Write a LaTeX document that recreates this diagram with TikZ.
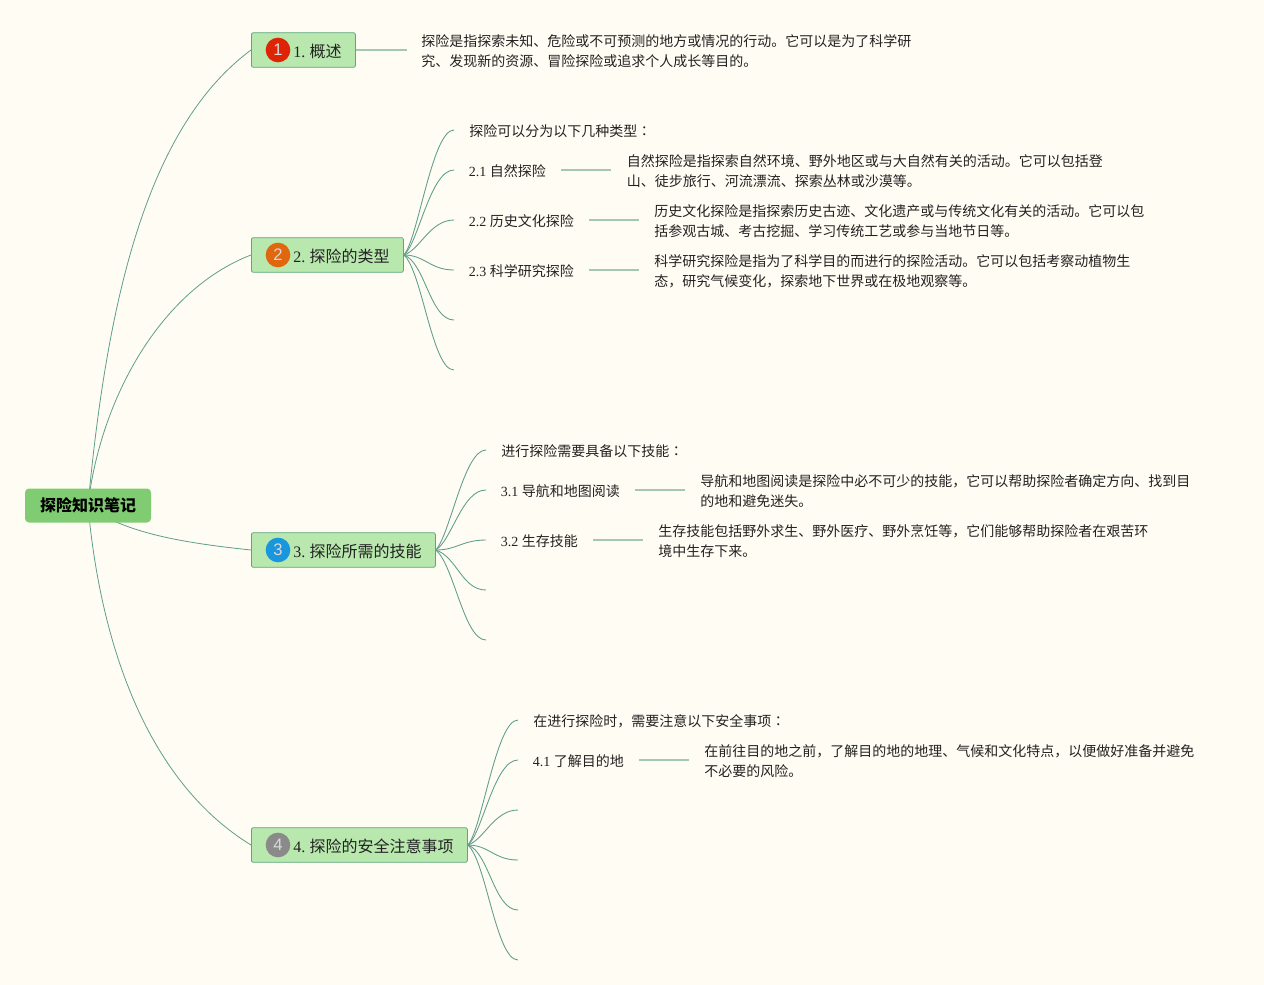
\documentclass[tikz,border=0pt]{standalone}
\usepackage{fontspec}
\setmainfont{Liberation Serif}
\newfontfamily\cjk{Noto Sans CJK SC}
\newfontfamily\cjktc{Noto Sans CJK TC}
\newfontfamily\badgefont{Liberation Sans}
\usetikzlibrary{backgrounds}
\definecolor{paper}{HTML}{FFFCF3}
\definecolor{rootfill}{HTML}{80CC72}
\definecolor{topicfill}{HTML}{B9E8AF}
\definecolor{topicline}{HTML}{5FA67C}
\definecolor{curve}{HTML}{5F9E8C}
\definecolor{stem}{HTML}{A5C9B0}
\definecolor{ink}{HTML}{222222}
\definecolor{badgeone}{HTML}{DD2405}
\definecolor{badgetwo}{HTML}{E0660F}
\definecolor{badgethree}{HTML}{1A96DC}
\definecolor{badgefour}{HTML}{8A8A8A}
\newcommand{\C}[1]{{\cjk #1}}
\newcommand{\colonmark}{{\cjktc ：}}
\tikzset{
  x=0.75pt,y=-0.75pt,
  rootbox/.style={fill=rootfill,rounded corners=3pt,minimum width=94.5pt,minimum height=25.5pt,inner sep=0pt,font=\fontsize{12pt}{15pt}\selectfont\cjk\bfseries,text=black},
  topicbox/.style={draw=topicline,line width=0.6pt,fill=topicfill,rounded corners=1.5pt,minimum height=26pt,inner sep=0pt,anchor=west,text=ink,font=\fontsize{12pt}{14pt}\selectfont},
  badge/.style={circle,minimum size=18.5pt,inner sep=0pt,text=white!85!black,font=\fontsize{12.5pt}{14pt}\selectfont\badgefont},
  topiclabel/.style={anchor=west,inner sep=0pt,text=ink,font=\fontsize{12pt}{14pt}\selectfont},
  leaf/.style={anchor=west,inner sep=0pt,text=ink,font=\fontsize{10.5pt}{15pt}\selectfont},
  para/.style={anchor=west,inner sep=0pt,text=ink,align=left,font=\fontsize{10.5pt}{15pt}\selectfont\cjk},
  branch/.style={draw=curve,line width=0.6pt},
  twig/.style={draw=curve,line width=0.65pt},
  stemline/.style={draw=stem,line width=0.9pt},
}
\begin{document}
\begin{tikzpicture}
\useasboundingbox (0,0) rectangle (1264,985);
\node[rootbox] (root) at (88,505.5) {探险知识笔记};

\node[topicbox,minimum width=78pt] (t1) at (251,50) {};
\node[badge,fill=badgeone] (b1) at (278,50) {1};
\node[topiclabel] (l1) at (293,51) {1.\hspace{-0.7pt} \C{概述}};
\node[topicbox,minimum width=114pt] (t2) at (251,255) {};
\node[badge,fill=badgetwo] (b2) at (278,255) {2};
\node[topiclabel] (l2) at (293,256) {2.\hspace{-0.7pt} \C{探险的类型}};
\node[topicbox,minimum width=138pt] (t3) at (251,550) {};
\node[badge,fill=badgethree] (b3) at (278,550) {3};
\node[topiclabel] (l3) at (293,551) {3.\hspace{-0.7pt} \C{探险所需的技能}};
\node[topicbox,minimum width=162pt] (t4) at (251,845) {};
\node[badge,fill=badgefour] (b4) at (278,845) {4};
\node[topiclabel] (l4) at (293,846) {4.\hspace{-0.7pt} \C{探险的安全注意事项}};

\node[para] (p1) at (421,51.5) {探险是指探索未知、危险或不可预测的地方或情况的行动。它可以是为了科学研\\究、发现新的资源、冒险探险或追求个人成长等目的。};

\node[para] (a0) at (469,131.5) {探险可以分为以下几种类型\colonmark};
\node[leaf] (a1) at (468.5,171.5) {2.1 \C{自然探险}};
\node[leaf] (a2) at (468.5,221.5) {2.2 \C{历史文化探险}};
\node[leaf] (a3) at (468.5,271.5) {2.3 \C{科学研究探险}};
\coordinate (a4) at (454,320);
\coordinate (a5) at (454,370);
\node[para] (pa1) at (626.5,171.5) {自然探险是指探索自然环境、野外地区或与大自然有关的活动。它可以包括登\\山、徒步旅行、河流漂流、探索丛林或沙漠等。};
\node[para] (pa2) at (654,221.5) {历史文化探险是指探索历史古迹、文化遗产或与传统文化有关的活动。它可以包\\括参观古城、考古挖掘、学习传统工艺或参与当地节日等。};
\node[para] (pa3) at (654,271.5) {科学研究探险是指为了科学目的而进行的探险活动。它可以包括考察动植物生\\态，研究气候变化，探索地下世界或在极地观察等。};

\node[para] (c0) at (501,451.5) {进行探险需要具备以下技能\colonmark};
\node[leaf] (c1) at (500.5,491.5) {3.1 \C{导航和地图阅读}};
\node[leaf] (c2) at (500.5,541.5) {3.2 \C{生存技能}};
\coordinate (c3) at (486,590);
\coordinate (c4) at (486,640);
\node[para] (pc1) at (700,491.5) {导航和地图阅读是探险中必不可少的技能，它可以帮助探险者确定方向、找到目\\的地和避免迷失。};
\node[para] (pc2) at (658,541.5) {生存技能包括野外求生、野外医疗、野外烹饪等，它们能够帮助探险者在艰苦环\\境中生存下来。};

\node[para] (d0) at (533,721.5) {在进行探险时，需要注意以下安全事项\colonmark};
\node[leaf] (d1) at (532.5,761.5) {4.1 \C{了解目的地}};
\coordinate (d2) at (518,810);
\coordinate (d3) at (518,860);
\coordinate (d4) at (518,910);
\coordinate (d5) at (518,960);
\node[para] (pd1) at (704,761.5) {在前往目的地之前，了解目的地的地理、气候和文化特点，以便做好准备并避免\\不必要的风险。};

\coordinate (e0) at (454,130);
\coordinate (e1) at (454,170);
\coordinate (e2) at (454,220);
\coordinate (e3) at (454,270);
\coordinate (g0) at (486,450);
\coordinate (g1) at (486,490);
\coordinate (g2) at (486,540);
\coordinate (h0) at (518,720);
\coordinate (h1) at (518,760);

\begin{scope}[on background layer]
\fill[paper] (0,0) rectangle (1264,985);
\draw[branch] (root.center) .. controls (108,290) and (150,125) .. (t1.west);
\draw[branch] (root.center) .. controls (100,400) and (160,290) .. (t2.west);
\draw[branch] (root.center) .. controls (125,535) and (195,544) .. (t3.west);
\draw[branch] (root.center) .. controls (100,640) and (145,780) .. (t4.west);

\draw[stemline] (t1.east) -- ([shift={(-14,-1.5)}]p1.west);
\draw[stemline] ([shift={(15,-1.5)}]a1.east) -- ([shift={(-16,-1.5)}]pa1.west);
\draw[stemline] ([shift={(15,-1.5)}]a2.east) -- ([shift={(-15,-1.5)}]pa2.west);
\draw[stemline] ([shift={(15,-1.5)}]a3.east) -- ([shift={(-15,-1.5)}]pa3.west);
\draw[stemline] ([shift={(15,-1.5)}]c1.east) -- ([shift={(-15,-1.5)}]pc1.west);
\draw[stemline] ([shift={(15,-1.5)}]c2.east) -- ([shift={(-15,-1.5)}]pc2.west);
\draw[stemline] ([shift={(15,-1.5)}]d1.east) -- ([shift={(-15,-1.5)}]pd1.west);

\draw[twig] (t2.east) .. controls (418,240) and (432,130) .. (e0);
\draw[twig] (t2.east) .. controls (418,245) and (430,170) .. (e1);
\draw[twig] (t2.east) .. controls (420,250) and (430,220) .. (e2);
\draw[twig] (t2.east) .. controls (425,255) and (430,270) .. (e3);
\draw[twig] (t2.east) .. controls (425,262) and (430,320) .. (a4);
\draw[twig] (t2.east) .. controls (422,270) and (432,370) .. (a5);

\draw[twig] (t3.east) .. controls (450,535) and (464,450) .. (g0);
\draw[twig] (t3.east) .. controls (452,540) and (462,490) .. (g1);
\draw[twig] (t3.east) .. controls (457,550) and (462,540) .. (g2);
\draw[twig] (t3.east) .. controls (457,557) and (462,590) .. (c3);
\draw[twig] (t3.east) .. controls (454,565) and (464,640) .. (c4);

\draw[twig] (t4.east) .. controls (482,830) and (496,720) .. (h0);
\draw[twig] (t4.east) .. controls (482,835) and (494,760) .. (h1);
\draw[twig] (t4.east) .. controls (484,840) and (494,810) .. (d2);
\draw[twig] (t4.east) .. controls (489,845) and (494,860) .. (d3);
\draw[twig] (t4.east) .. controls (489,852) and (494,910) .. (d4);
\draw[twig] (t4.east) .. controls (486,860) and (496,960) .. (d5);
\end{scope}
\end{tikzpicture}
\end{document}
